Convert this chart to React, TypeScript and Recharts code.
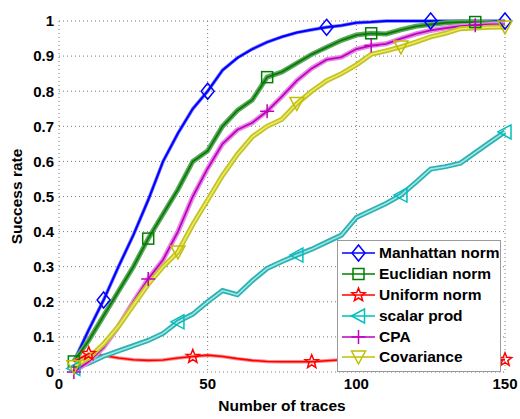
import { LineChart, Line, XAxis, YAxis, CartesianGrid, Legend } from 'recharts'

// number of traces (x)
const traces = [5, 10, 15, 20, 25, 30, 35, 40, 45, 50, 55, 60, 65, 70, 75, 80, 85, 90, 95, 100, 105, 110, 115, 120, 125, 130, 135, 140, 145, 150]

// success rates
const manhattan = [0.03, 0.12, 0.205, 0.30, 0.39, 0.49, 0.60, 0.68, 0.75, 0.80, 0.86, 0.895, 0.92, 0.94, 0.955, 0.967, 0.975, 0.982, 0.987, 0.995, 0.997, 1, 1, 1, 1, 1, 1, 1, 1, 1]
const euclid = [0.03, 0.09, 0.16, 0.23, 0.30, 0.38, 0.45, 0.52, 0.60, 0.63, 0.70, 0.745, 0.775, 0.84, 0.855, 0.88, 0.905, 0.925, 0.945, 0.96, 0.965, 0.963, 0.975, 0.985, 0.99, 0.995, 0.997, 0.997, 0.995, 0.992]
const uniform = [0.03, 0.052, 0.047, 0.04, 0.035, 0.033, 0.034, 0.04, 0.044, 0.048, 0.044, 0.038, 0.033, 0.03, 0.029, 0.029, 0.029, 0.032, 0.035, 0.033, 0.032, 0.03, 0.031, 0.034, 0.033, 0.032, 0.034, 0.033, 0.034, 0.035]
const scalar = [0.01, 0.025, 0.045, 0.06, 0.075, 0.09, 0.11, 0.143, 0.165, 0.20, 0.232, 0.22, 0.26, 0.295, 0.315, 0.333, 0.35, 0.37, 0.39, 0.44, 0.46, 0.48, 0.504, 0.54, 0.578, 0.585, 0.595, 0.625, 0.655, 0.684]
const cpa = [0.0, 0.03, 0.07, 0.13, 0.20, 0.265, 0.32, 0.40, 0.50, 0.58, 0.65, 0.69, 0.71, 0.743, 0.785, 0.83, 0.865, 0.89, 0.897, 0.92, 0.93, 0.935, 0.95, 0.963, 0.973, 0.98, 0.985, 0.988, 0.99, 0.99]
const covariance = [0.015, 0.04, 0.08, 0.13, 0.19, 0.25, 0.30, 0.342, 0.42, 0.49, 0.56, 0.62, 0.67, 0.70, 0.72, 0.765, 0.80, 0.83, 0.85, 0.875, 0.905, 0.915, 0.926, 0.94, 0.955, 0.965, 0.978, 0.98, 0.982, 0.983]

// x positions that carry a marker
const manhattanMarks = [15, 50, 90, 125, 150]
const euclidMarks = [5, 30, 70, 105, 140]
const uniformMarks = [10, 45, 85, 120, 150]
const scalarMarks = [5, 40, 80, 115, 150]
const cpaMarks = [5, 30, 70, 105, 140]
const covarianceMarks = [5, 40, 80, 115, 150]

const xTicks = [0, 50, 100, 150]
const yTicks = [0, 0.1, 0.2, 0.3, 0.4, 0.5, 0.6, 0.7, 0.8, 0.9, 1]

const series = [
  { key: 'manhattan', name: 'Manhattan norm', values: manhattan, marks: manhattanMarks, shape: 'diamond', color: '#0000ff', core: '#0000ff', halo: '#7a7aff', haloW: 3.5, coreW: 2 },
  { key: 'euclid', name: 'Euclidian norm', values: euclid, marks: euclidMarks, shape: 'square', color: '#007f00', core: '#0a7a0a', halo: '#5aa85a', haloW: 5, coreW: 1.8 },
  { key: 'uniform', name: 'Uniform norm', values: uniform, marks: uniformMarks, shape: 'star', color: '#ff0000', core: '#ff0000', halo: '#ff8a8a', haloW: 3.5, coreW: 1.6 },
  { key: 'scalar', name: 'scalar prod', values: scalar, marks: scalarMarks, shape: 'triLeft', color: '#00bfbf', core: '#9ae8e8', halo: '#2fb0b0', haloW: 5, coreW: 1.6 },
  { key: 'cpa', name: 'CPA', values: cpa, marks: cpaMarks, shape: 'plus', color: '#bf00bf', core: '#c000c0', halo: '#e38be3', haloW: 5, coreW: 1.8 },
  { key: 'covariance', name: 'Covariance', values: covariance, marks: covarianceMarks, shape: 'triDown', color: '#bfbf00', core: '#ecec5a', halo: '#c2c22a', haloW: 5, coreW: 1.6 },
]

const data = traces.map((x, i) => {
  const row: any = { x }
  series.forEach(s => { row[s.key] = s.values[i] })
  return row
})

const font = '"Liberation Sans", Arial, sans-serif'

function Marker({ shape, cx, cy, color }: { shape: string, cx: number, cy: number, color: string }) {
  const common = { fill: 'none', stroke: color, strokeWidth: 1.5 }
  if (shape === 'diamond') {
    return <polygon points={`${cx},${cy - 8} ${cx + 6.5},${cy} ${cx},${cy + 8} ${cx - 6.5},${cy}`} {...common} />
  }
  if (shape === 'square') {
    return <rect x={cx - 5.5} y={cy - 5.5} width={11} height={11} {...common} />
  }
  if (shape === 'star') {
    const pts: string[] = []
    for (let k = 0; k < 10; k++) {
      const r = k % 2 === 0 ? 7 : 3
      const a = -Math.PI / 2 + (k * Math.PI) / 5
      pts.push(`${cx + r * Math.cos(a)},${cy + r * Math.sin(a)}`)
    }
    return <polygon points={pts.join(' ')} {...common} />
  }
  if (shape === 'triLeft') {
    return <polygon points={`${cx - 7},${cy} ${cx + 6},${cy - 7} ${cx + 6},${cy + 7}`} {...common} />
  }
  if (shape === 'plus') {
    return <path d={`M${cx - 7},${cy} H${cx + 7} M${cx},${cy - 7} V${cy + 7}`} {...common} />
  }
  return <polygon points={`${cx - 7},${cy - 6} ${cx + 7},${cy - 6} ${cx},${cy + 7}`} {...common} />
}

function renderLegend() {
  return (
    <div style={{ background: '#fff', border: '1px solid #9a9a9a', padding: '2px 0 3px 0', fontFamily: font, fontWeight: 'bold', fontSize: 15.5, color: '#000' }}>
      {series.map(s => (
        <div key={s.key} style={{ display: 'flex', alignItems: 'center', height: 20.8 }}>
          <svg width={37} height={20} style={{ marginLeft: 3 }}>
            <line x1={1} y1={10} x2={34} y2={10} stroke={s.color} strokeWidth={1.5} />
            <Marker shape={s.shape} cx={17.5} cy={10} color={s.color} />
          </svg>
          <span style={{ marginLeft: 1, whiteSpace: 'nowrap' }}>{s.name}</span>
        </div>
      ))}
    </div>
  )
}

export default function App() {
  const tickStyle = { fontFamily: font, fontWeight: 'bold', fontSize: 15, fill: '#000' }
  return (
    <div style={{ position: 'absolute', left: 0, top: 0, width: 520, height: 419, background: '#fff' }}>
      <LineChart width={520} height={419} data={data} margin={{ top: 21, right: 15, left: 0, bottom: 0 }}>
        <CartesianGrid stroke="#777" strokeDasharray="1 3" />
        <XAxis
          type="number"
          dataKey="x"
          domain={[0, 150]}
          ticks={xTicks}
          axisLine={false}
          tickLine={false}
          tickSize={4}
          tickMargin={2}
          height={47}
          tick={tickStyle}
          label={{ value: 'Number of traces', position: 'insideBottom', offset: 8, style: { fontFamily: font, fontWeight: 'bold', fontSize: 15.5, fill: '#000' } }}
        />
        <YAxis
          type="number"
          domain={[0, 1]}
          ticks={yTicks}
          axisLine={false}
          tickLine={false}
          tickSize={3}
          tickMargin={2}
          width={59}
          tick={tickStyle}
          label={{ value: 'Success rate', angle: -90, position: 'insideLeft', offset: 16, style: { textAnchor: 'middle', fontFamily: font, fontWeight: 'bold', fontSize: 15.5, fill: '#000' } }}
        />
        {series.flatMap(s => [
          <Line
            key={s.key + '-halo'}
            type="linear"
            dataKey={s.key}
            stroke={s.halo}
            strokeWidth={s.haloW}
            dot={false}
            activeDot={false}
            legendType="none"
            isAnimationActive={false}
          />,
          <Line
            key={s.key}
            type="linear"
            dataKey={s.key}
            name={s.name}
            stroke={s.core}
            strokeWidth={s.coreW}
            dot={(p: any) => {
              const { cx, cy, payload, index } = p
              if (!s.marks.includes(payload.x)) return <g key={`${s.key}-d${index}`} />
              return (
                <g key={`${s.key}-d${index}`}>
                  <Marker shape={s.shape} cx={cx} cy={cy} color={s.color} />
                </g>
              )
            }}
            activeDot={false}
            isAnimationActive={false}
          />,
        ])}
        <Legend
          layout="vertical"
          align="center"
          verticalAlign="middle"
          content={renderLegend}
          wrapperStyle={{ left: 337, top: 240, width: 164, height: 'auto' }}
        />
      </LineChart>
    </div>
  )
}
